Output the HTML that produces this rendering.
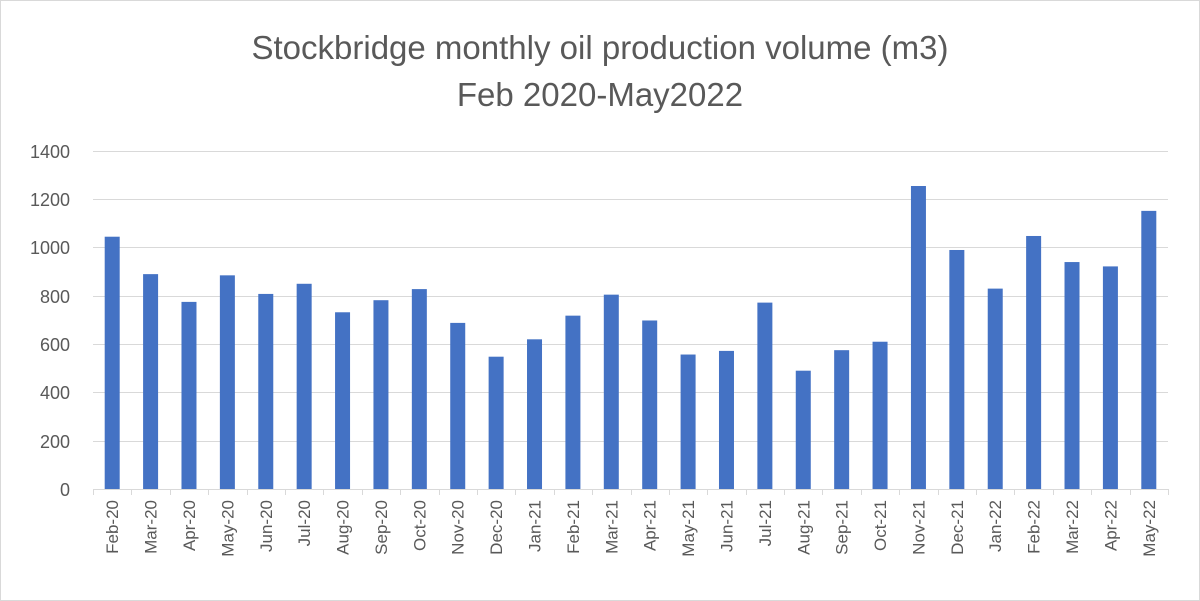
<!DOCTYPE html>
<html><head><meta charset="utf-8"><style>
html,body{margin:0;padding:0;background:#fff}
svg{display:block;font-family:"Liberation Sans",Arial,sans-serif}
</style></head><body>
<svg width="1200" height="601" viewBox="0 0 1200 601">
<rect x="0.5" y="0.5" width="1199" height="600" fill="#fff" stroke="#d9d9d9"/>
<text x="600" y="59" text-anchor="middle" font-size="33" fill="#595959">Stockbridge monthly oil production volume (m3)</text>
<text x="600" y="106" text-anchor="middle" font-size="33" fill="#595959">Feb 2020-May2022</text>
<g stroke="#d9d9d9" stroke-width="1">
<line x1="93" x2="1168" y1="151.5" y2="151.5"/>
<line x1="93" x2="1168" y1="199.5" y2="199.5"/>
<line x1="93" x2="1168" y1="247.5" y2="247.5"/>
<line x1="93" x2="1168" y1="296.5" y2="296.5"/>
<line x1="93" x2="1168" y1="344.5" y2="344.5"/>
<line x1="93" x2="1168" y1="392.5" y2="392.5"/>
<line x1="93" x2="1168" y1="441.5" y2="441.5"/>
</g>
<g font-size="18" fill="#595959" text-anchor="end">
<text x="70" y="158">1400</text><text x="70" y="206">1200</text><text x="70" y="254">1000</text>
<text x="70" y="303">800</text><text x="70" y="351">600</text><text x="70" y="399">400</text>
<text x="70" y="448">200</text><text x="70" y="496">0</text>
</g>
<g id="bars" fill="#4472c4"></g>
<g id="ticks" stroke="#d9d9d9"></g>
<line x1="93" x2="1168" y1="489.5" y2="489.5" stroke="#d9d9d9"/>
<g id="labels" font-size="17" fill="#595959"></g>
</svg>
<script>
var v=[1045,890,775,885,808,850,732,782,828,688,548,620,718,805,698,557,572,772,490,575,610,1255,990,830,1048,940,922,1152];
var n=["Feb-20","Mar-20","Apr-20","May-20","Jun-20","Jul-20","Aug-20","Sep-20","Oct-20","Nov-20","Dec-20","Jan-21","Feb-21","Mar-21","Apr-21","May-21","Jun-21","Jul-21","Aug-21","Sep-21","Oct-21","Nov-21","Dec-21","Jan-22","Feb-22","Mar-22","Apr-22","May-22"];
var x0=93,w=(1168-93)/28,b="",t="",l="",k=338/1400;
for(var i=0;i<28;i++){var c=x0+w*(i+0.5),h=v[i]*k;
b+='<rect x="'+(c-7.5)+'" y="'+(489-h)+'" width="15" height="'+h+'"/>';
l+='<text transform="translate('+(c+6)+',500) rotate(-90)" text-anchor="end">'+n[i]+'</text>';}
for(var i=0;i<=28;i++){var xx=Math.round(x0+w*i)+0.5;t+='<line x1="'+xx+'" x2="'+xx+'" y1="489" y2="495"/>';}
var NS="http://www.w3.org/2000/svg";
function put(id,s){var g=document.getElementById(id);var d=new DOMParser().parseFromString('<svg xmlns="'+NS+'">'+s+'</svg>','image/svg+xml');var ch=d.documentElement.childNodes;while(ch.length)g.appendChild(document.importNode(ch[0],true)),d.documentElement.removeChild(ch[0]);}
put("bars",b);put("ticks",t);put("labels",l);
</script>
</body></html>
